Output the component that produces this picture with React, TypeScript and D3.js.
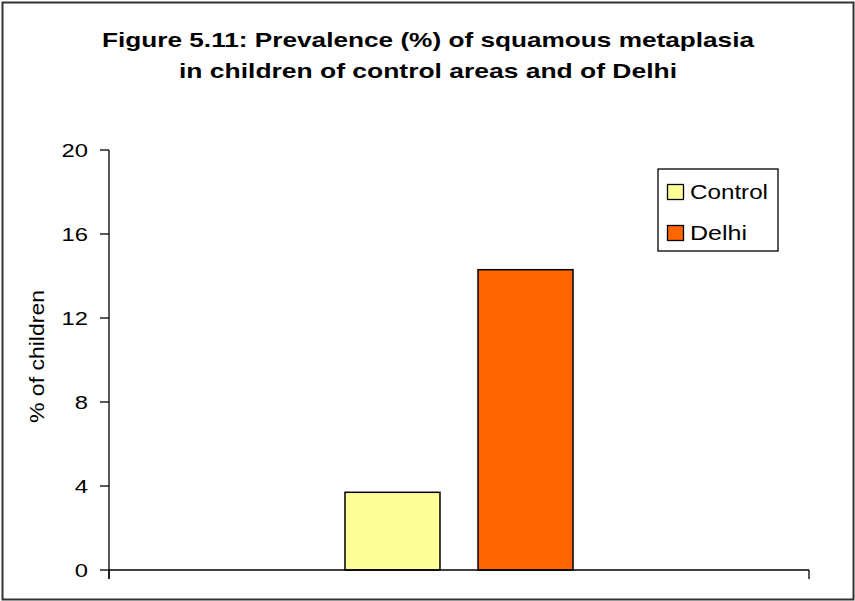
import React from "react";
import * as d3 from "d3";

const categories = ["Prevalence"];
const seriesNames = ["Control", "Delhi"];
const seriesValues = [3.7, 14.3];
const seriesColors = ["#FFFF99", "#FF6600"];
const yTicks = [0, 4, 8, 12, 16, 20];
const titleLines = [
  "Figure 5.11: Prevalence (%) of squamous metaplasia",
  "in children of control areas and of Delhi",
];
const titleWidths = [652, 498];
const legendWidths = [78, 57];
const yAxisLabel = "% of children";

export default function App() {
  const W = 855, H = 601;
  const x0 = 109, x1 = 809, yTop = 150, yBot = 570;
  const y = d3.scaleLinear().domain([0, 20]).range([yBot, yTop]);
  const xCat = d3.scaleBand().domain(categories).range([x0, x1]).padding(0);
  const groupW = 228;
  const cx = (xCat(categories[0]) as number) + xCat.bandwidth() / 2;
  const xSeries = d3
    .scaleBand()
    .domain(seriesNames)
    .range([cx - groupW / 2, cx + groupW / 2])
    .paddingInner(0.286)
    .paddingOuter(0);
  const font = "Arial, 'Liberation Sans', sans-serif";
  return (
    <svg width={W} height={H} style={{ position: "absolute", left: 0, top: 0, display: "block" }}>
      <rect x={0} y={0} width={W} height={H} fill="#fff" />
      <rect x={2.5} y={2.5} width={851} height={597} fill="none" stroke="#333" strokeWidth={2} />
      {titleLines.map((t, i) => (
        <text
          key={i}
          x={428}
          y={47 + i * 31}
          textAnchor="middle"
          fontFamily={font}
          fontWeight="bold"
          fontSize={21}
          fill="#000"
          textLength={titleWidths[i]}
          lengthAdjust="spacingAndGlyphs"
        >
          {t}
        </text>
      ))}
      {/* bars */}
      {seriesNames.map((s, i) => (
        <rect
          key={s}
          x={xSeries(s) as number}
          y={y(seriesValues[i])}
          width={xSeries.bandwidth()}
          height={yBot - y(seriesValues[i])}
          fill={seriesColors[i]}
          stroke="#000"
          strokeWidth={1.5}
        />
      ))}
      {/* y axis */}
      <line x1={x0} x2={x0} y1={yTop} y2={yBot + 9} stroke="#000" strokeWidth={1.3} />
      {yTicks.map((t) => (
        <g key={t}>
          <line x1={x0 - 9} x2={x0} y1={y(t)} y2={y(t)} stroke="#000" strokeWidth={1.3} />
          <text
            transform={`translate(88,${y(t) + 7}) scale(1.25,1)`}
            textAnchor="end"
            fontFamily={font}
            fontSize={19}
            fill="#000"
          >
            {t}
          </text>
        </g>
      ))}
      {/* x axis */}
      <line x1={x0} x2={x1} y1={yBot} y2={yBot} stroke="#000" strokeWidth={1.3} />
      {[x0, x1].map((xx, i) => (
        <line key={i} x1={xx} x2={xx} y1={yBot} y2={yBot + 9} stroke="#000" strokeWidth={1.3} />
      ))}
      <text
        transform={`translate(44,356.5) rotate(-90)`}
        x={0}
        y={0}
        textAnchor="middle"
        fontFamily={font}
        fontSize={21}
        fill="#000"
        textLength={133}
        lengthAdjust="spacingAndGlyphs"
      >
        {yAxisLabel}
      </text>
      {/* legend */}
      <rect x={658} y={169} width={120} height={82} fill="#fff" stroke="#000" strokeWidth={1.3} />
      {seriesNames.map((s, i) => (
        <g key={s}>
          <rect x={667.5} y={184.5 + i * 41} width={16} height={15} fill={seriesColors[i]} stroke="#000" strokeWidth={1.3} />
          <text
            x={690}
            y={199 + i * 41}
            fontFamily={font}
            fontSize={21}
            fill="#000"
            textLength={legendWidths[i]}
            lengthAdjust="spacingAndGlyphs"
          >
            {s}
          </text>
        </g>
      ))}
    </svg>
  );
}
